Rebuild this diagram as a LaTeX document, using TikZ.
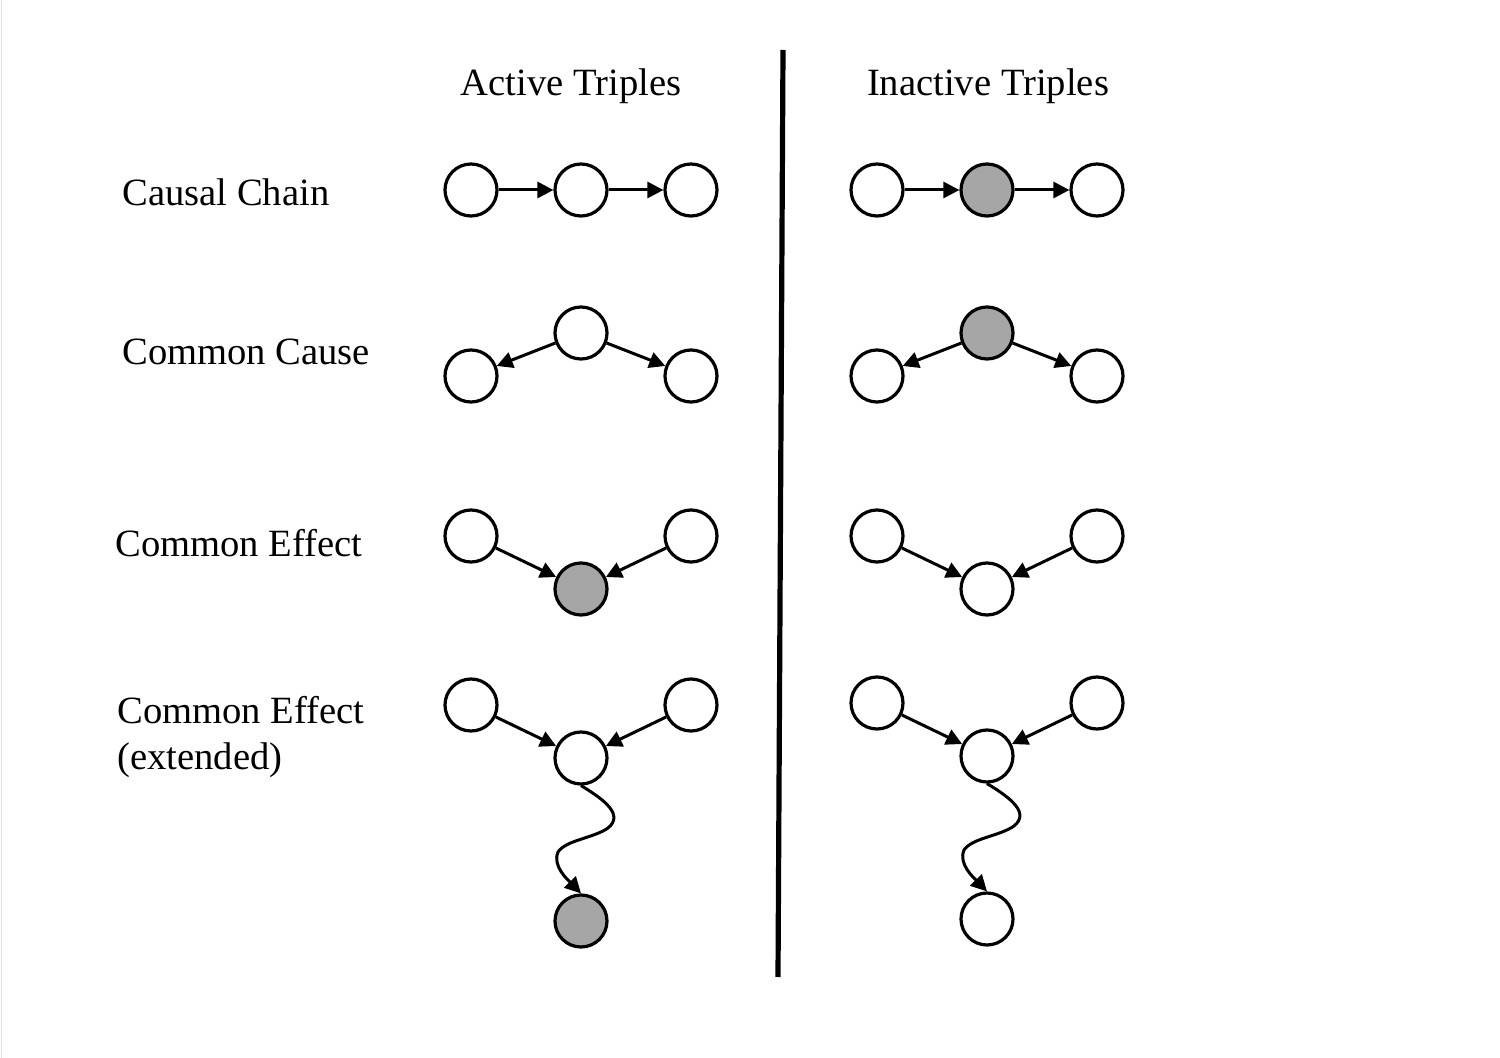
\documentclass[tikz,border=0pt]{standalone}
\usepackage{fontspec}
\setmainfont{Liberation Serif}
\usetikzlibrary{arrows.meta}
\definecolor{obsgray}{HTML}{A6A6A6}
\begin{document}
\begin{tikzpicture}[x=0.5pt,y=-0.5pt,
  var/.style={circle,draw=black,line width=1.6pt,fill=white,minimum size=26pt,inner sep=0pt},
  obs/.style={var,fill=obsgray},
  edge/.style={line width=1.5pt,-{Triangle[length=8pt,width=8pt]}},
  lbl/.style={font=\fontsize{19.3}{23}\selectfont,anchor=west,inner sep=0pt},
  hdr/.style={font=\fontsize{19.3}{23}\selectfont,inner sep=0pt}]
\useasboundingbox (0,0) rectangle (1500,1058);
\fill[white] (0,0) rectangle (1500,1058);
\draw[line width=0.6pt,color=black!12] (1.5,0) -- (1.5,1058);
% headers
\node[hdr] (hA) at (571,86) {Active Triples};
\node[hdr] (hI) at (988,86) {Inactive Triples};
\coordinate (vt) at (783,50);
\coordinate (vb) at (778,977);
\draw[line width=2.6pt] (vt) -- (vb);
% row labels
\node[lbl] (l1) at (122,192) {Causal Chain};
\node[lbl] (l2) at (122,352) {Common Cause};
\node[lbl] (l3) at (115,543) {Common Effect};
\node[lbl,align=left] (l4) at (117,737) {Common Effect\\(extended)};
% causal chain
\node[var] (a1) at (471,190) {};
\node[var] (a2) at (581,190) {};
\node[var] (a3) at (691,190) {};
\draw[edge] (a1) -- (a2);
\draw[edge] (a2) -- (a3);
\node[var] (b1) at (877,190) {};
\node[obs] (b2) at (987,190) {};
\node[var] (b3) at (1097,190) {};
\draw[edge] (b1) -- (b2);
\draw[edge] (b2) -- (b3);
% common cause
\node[var] (c0) at (581,333) {};
\node[var] (c1) at (471,376) {};
\node[var] (c2) at (691,376) {};
\draw[edge] (c0) -- (c1);
\draw[edge] (c0) -- (c2);
\node[obs] (d0) at (987,333) {};
\node[var] (d1) at (877,376) {};
\node[var] (d2) at (1097,376) {};
\draw[edge] (d0) -- (d1);
\draw[edge] (d0) -- (d2);
% common effect
\node[var] (e1) at (471,536) {};
\node[var] (e2) at (691,536) {};
\node[obs] (e0) at (581,589) {};
\draw[edge] (e1) -- (e0);
\draw[edge] (e2) -- (e0);
\node[var] (f1) at (877,536) {};
\node[var] (f2) at (1097,536) {};
\node[var] (f0) at (987,589) {};
\draw[edge] (f1) -- (f0);
\draw[edge] (f2) -- (f0);
% common effect extended
\node[var] (g1) at (471,705) {};
\node[var] (g2) at (691,705) {};
\node[var] (g0) at (581,758) {};
\node[obs] (g3) at (581,921) {};
\draw[edge] (g1) -- (g0);
\draw[edge] (g2) -- (g0);
\draw[edge] (g0.south) .. controls (605,800) and (624,815) .. (608,828)
   .. controls (594,838) and (566,840) .. (558,852)
   .. controls (552,866) and (568,880) .. (g3.north);
\node[var] (h1) at (877,703) {};
\node[var] (h2) at (1097,703) {};
\node[var] (h0) at (987,756) {};
\node[var] (h3) at (987,919) {};
\draw[edge] (h1) -- (h0);
\draw[edge] (h2) -- (h0);
\draw[edge] (h0.south) .. controls (1011,798) and (1030,813) .. (1014,826)
   .. controls (1000,836) and (972,838) .. (964,850)
   .. controls (958,864) and (974,878) .. (h3.north);
\end{tikzpicture}
\end{document}
